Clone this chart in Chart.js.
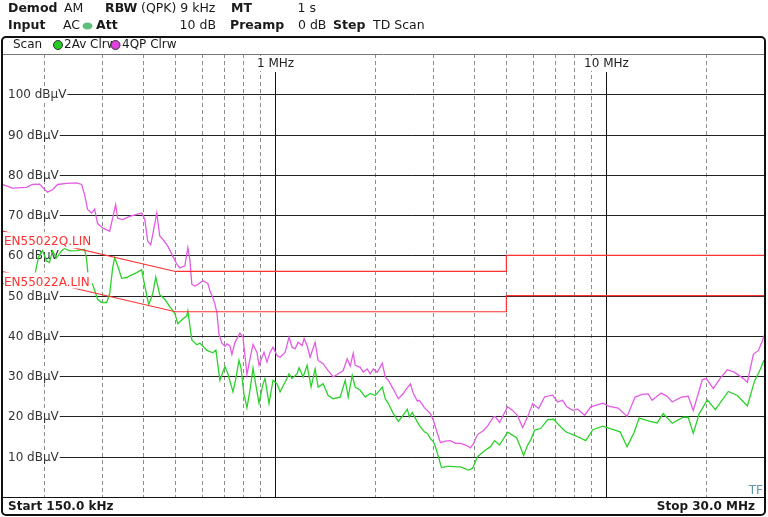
<!DOCTYPE html>
<html>
<head>
<meta charset="utf-8">
<script src="https://cdn.jsdelivr.net/npm/chart.js@4.4.1/dist/chart.umd.min.js"></script>
<style>
    html, body { margin: 0; padding: 0; background: #fff; overflow: hidden; }
    canvas { display: block; }
</style>
</head>
<body>
<canvas id="spectrum" width="768" height="517"></canvas>
<script>
// frequencies in kHz, levels in dBµV
const qpFreq = [150, 160.9, 177.5, 185.0, 194.3, 198.4, 205.4, 212.7, 220.3, 234.5,
    251.5, 260.4, 265.9, 271.5, 279.2, 285.1, 291.1, 301.5, 316.5, 323.3,
    330.1, 334.6, 346.5, 363.8, 395.6, 404.0, 412.5, 421.2, 427.2, 439.3,
    448.5, 458.1, 474.3, 487.6, 505.0, 515.6, 534.0, 545.3, 552.9, 560.6,
    572.5, 584.6, 605.4, 626.8, 635.6, 649.1, 658.2, 667.4, 676.8, 691.0,
    705.7, 715.6, 730.7, 740.9, 756.7, 783.4, 800.1, 822.7, 840.0, 857.9,
    882.1, 894.5, 913.3, 926.2, 945.8, 965.7, 986.2, 1014, 1035.5, 1072.2,
    1102.5, 1125.8, 1149.6, 1173.9, 1207.0, 1224.1, 1249.9, 1276.3, 1321.6, 1349.6,
    1397.4, 1447.0, 1498.4, 1551.6, 1606.6, 1651.9, 1686.9, 1722.6, 1746.7, 1808.7,
    1847.0, 1899.1, 1939.3, 1980.4, 2036.2, 2108.5, 2153.1, 2198.7, 2276.7, 2357.5,
    2441.1, 2475.3, 2563.1, 2617.4, 2691.3, 2729.2, 2826.0, 2946.7, 3009.1, 3094.0,
    3159.5, 3271.5, 3387.6, 3507.8, 3632.2, 3761.1, 3894.5, 3977.0, 4089.2, 4264.2,
    4384.5, 4572.2, 4636.2, 4767.4, 5040.6, 5219.4, 5404.6, 5596.3, 5794.9, 6000.5,
    6257.3, 6524.5, 6898.4, 7143.1, 7396.5, 7605.8, 7930.6, 8212.0, 8623.1, 8991.3,
    9775.7, 10211, 10872, 11575, 12239, 12852, 13401, 13779, 14672, 15298,
    15841, 16867, 17712, 18341, 19124, 19527, 20080, 21086, 22139, 23246,
    24411, 25992, 26725, 27870, 28858, 29672, 30000];
const qpLevel = [77.6, 76.7, 76.9, 77.6, 77.7, 76.9, 75.7, 76.3, 77.6, 77.9,
    78.0, 77.6, 75.1, 71.4, 70.5, 71.5, 67.9, 66.8, 66.0, 69.3,
    72.6, 69.2, 68.9, 69.7, 70.5, 69.0, 63.5, 62.6, 65.2, 70.5,
    64.8, 64.0, 62.3, 60.3, 57.8, 56.9, 57.4, 61.9, 59.0, 52.8,
    52.4, 52.8, 53.7, 53.0, 51.2, 49.5, 47.9, 45.8, 40.5, 38.2,
    37.4, 38.0, 37.5, 35.4, 38.4, 40.7, 39.7, 30.4, 34.3, 37.9,
    35.9, 32.7, 34.7, 35.9, 33.5, 35.9, 37.2, 35.1, 34.7, 35.9,
    39.7, 37.2, 36.8, 38.4, 37.6, 39.3, 37.6, 34.7, 38.4, 33.9,
    33.1, 31.4, 29.8, 30.6, 31.4, 34.3, 32.5, 35.7, 32.7, 32.2,
    31.0, 31.8, 30.6, 31.8, 31.0, 33.2, 29.8, 29.0, 26.8, 24.4,
    25.7, 26.5, 28.1, 25.7, 23.8, 24.0, 22.2, 20.7, 19.0, 15.8,
    13.5, 13.9, 14.0, 13.3, 13.3, 12.9, 12.2, 13.3, 15.5, 16.5,
    17.6, 19.9, 19.9, 18.5, 22.4, 21.5, 20.2, 17.2, 19.9, 23.2,
    22.0, 24.9, 25.3, 23.6, 24.0, 22.4, 21.5, 21.8, 20.3, 22.4,
    23.3, 22.5, 22.1, 20.0, 24.8, 25.5, 25.6, 24.0, 25.8, 25.0,
    23.6, 24.8, 25.0, 21.5, 26.5, 29.1, 29.4, 26.9, 29.5, 31.6,
    31.0, 29.4, 28.5, 35.5, 36.4, 38.8, 40.1];

const avFreq = [150, 169.0, 185.0, 188.9, 193.0, 198.4, 204.0, 208.3, 212.7, 218.7,
    226.5, 231.3, 239.5, 251.5, 265.9, 269.6, 273.4, 281.2, 291.1, 299.3,
    310.0, 316.5, 323.3, 327.8, 334.6, 344.1, 356.3, 363.8, 382.1, 395.6,
    404.0, 415.4, 427.2, 436.2, 448.5, 464.5, 480.9, 498.0, 508.5, 526.6,
    541.5, 545.3, 560.6, 580.5, 592.8, 622.5, 649.1, 662.8, 681.5, 705.7,
    720.6, 746.3, 762.0, 778.0, 788.9, 805.7, 822.7, 840.0, 857.9, 869.9,
    894.5, 919.8, 932.7, 959.0, 986.2, 1014, 1035.5, 1072.2, 1102.5, 1125.8,
    1165.7, 1182.1, 1215.6, 1249.9, 1285.2, 1321.6, 1349.6, 1397.4, 1447.0, 1498.4,
    1573.3, 1629.1, 1663.6, 1710.5, 1746.7, 1808.7, 1872.9, 1939.3, 2008.1, 2050.7,
    2108.5, 2153.1, 2198.7, 2276.7, 2357.5, 2424.0, 2510.0, 2545.3, 2599.0, 2691.3,
    2748.2, 2826.0, 2885.6, 2946.7, 3009.1, 3051.2, 3115.9, 3181.6, 3317.3, 3387.6,
    3556.9, 3632.2, 3840.7, 3949.1, 4089.2, 4293.9, 4477.3, 4604.1, 4767.4, 5040.6,
    5367.1, 5480.8, 5635.9, 5794.9, 5917.6, 6085.0, 6344.9, 6662.0, 6947.1, 7143.1,
    7553.1, 8098.5, 8683.3, 9117.3, 9775.7, 10354, 11024, 11575, 12154, 12586,
    13589, 14268, 14879, 15841, 17105, 17712, 18341, 19124, 20220, 21381,
    23410, 24925, 26725, 28064, 29262, 30000];
const avLevel = [53.0, 53.2, 53.5, 55.9, 59.6, 61.2, 58.6, 58.2, 61.1, 59.4,
    61.1, 61.7, 61.1, 61.2, 61.5, 59.0, 53.7, 52.8, 49.1, 48.3,
    48.3, 50.4, 57.0, 59.4, 57.4, 54.3, 54.5, 54.9, 55.7, 56.4,
    52.4, 47.8, 50.5, 54.6, 50.2, 49.1, 47.3, 45.6, 43.0, 44.2,
    45.0, 46.2, 39.0, 37.8, 38.2, 36.4, 35.8, 36.5, 29.0, 32.4,
    30.6, 26.1, 29.5, 33.9, 32.2, 25.5, 22.2, 26.5, 32.0, 29.0,
    23.3, 28.1, 29.4, 23.2, 29.0, 28.1, 26.1, 28.5, 30.6, 29.4,
    30.6, 32.1, 29.8, 32.7, 27.3, 31.8, 27.3, 28.1, 25.2, 24.4,
    24.8, 29.0, 24.8, 30.2, 27.3, 26.5, 24.8, 25.7, 25.2, 26.1,
    27.3, 24.4, 23.2, 20.7, 18.8, 20.0, 21.8, 19.9, 21.0, 18.6,
    17.4, 16.2, 15.8, 14.5, 13.7, 12.5, 10.0, 7.3, 7.6, 7.6,
    7.5, 7.5, 6.7, 7.1, 10.0, 11.5, 12.5, 14.0, 12.9, 16.1,
    14.7, 12.9, 10.3, 12.9, 14.1, 16.6, 17.0, 19.2, 19.3, 18.2,
    16.2, 15.2, 14.0, 16.7, 17.6, 16.9, 16.2, 12.5, 16.0, 19.6,
    18.8, 18.4, 20.7, 18.3, 19.8, 19.8, 15.8, 20.7, 24.1, 21.7,
    26.2, 25.2, 22.6, 28.7, 31.8, 34.0];

// EN55022 class B limit lines
const limitFreq = [150, 500, 5000, 5000, 30000];
const limitQLevel = [66, 56, 56, 60, 60];
const limitALevel = [56, 46, 46, 50, 50];
const limitNames = ["EN55022Q.LIN", "EN55022A.LIN"];

const levelTicks = [10, 20, 30, 40, 50, 60, 70, 80, 90, 100];
const minorFreqs = [200, 300, 400, 500, 600, 700, 800, 900, 2000, 3000, 4000, 5000, 6000, 7000, 8000, 9000, 20000];
const majorFreqs = [1000, 10000];
const majorLabels = ["1 MHz", "10 MHz"];

const FONT = '"DejaVu Sans", Verdana, sans-serif';
const RED = "#ff3232";

// [text, x, bold, align]
const headerRows = [
    [["Demod", 8, true], ["AM", 64, false], ["RBW", 105, true], ["(QPK) 9 kHz", 141, false], ["MT", 231, true], ["1 s", 316, false, "right"]],
    [["Input", 8, true], ["AC", 80, false, "right"], ["Att", 96, true], ["10 dB", 216, false, "right"], ["Preamp", 230, true], ["0 dB", 298, false], ["Step", 333, true], ["TD Scan", 373, false]]
];

function toPoints(freqs, levels) {
    return freqs.map((f, i) => ({ x: f, y: levels[i] }));
}

function hline(ctx, x1, x2, y) {
    ctx.beginPath();
    ctx.moveTo(x1, y);
    ctx.lineTo(x2, y);
    ctx.stroke();
}

function vline(ctx, x, y1, y2) {
    ctx.beginPath();
    ctx.moveTo(x, y1);
    ctx.lineTo(x, y2);
    ctx.stroke();
}

function dot(ctx, x, y, color) {
    ctx.beginPath();
    ctx.arc(x, y, 4.5, 0, Math.PI * 2);
    ctx.fillStyle = color;
    ctx.fill();
    ctx.lineWidth = 1;
    ctx.strokeStyle = "#333";
    ctx.stroke();
}

const analyzerScreen = {
    id: "analyzerScreen",
    beforeDraw(chart) {
        const ctx = chart.ctx;
        ctx.save();
        ctx.fillStyle = "#fff";
        ctx.fillRect(0, 0, chart.width, chart.height);
        ctx.textBaseline = "middle";
        ctx.fillStyle = "#1a1a1a";
        headerRows.forEach((row, i) => {
            row.forEach(([s, x, bold, align]) => {
                ctx.font = (bold ? "bold " : "") + "12.5px " + FONT;
                ctx.textAlign = align || "left";
                ctx.fillText(s, x, 9 + i * 17);
            });
        });
        // input coupling LED
        ctx.beginPath();
        ctx.ellipse(87.5, 26, 5, 3.5, 0, 0, Math.PI * 2);
        ctx.fillStyle = "#5fbf7a";
        ctx.fill();
        ctx.restore();
    },
    beforeDatasetsDraw(chart) {
        const { ctx, chartArea: a, scales: { x, y } } = chart;
        ctx.save();
        ctx.lineWidth = 1;

        ctx.strokeStyle = "#8c8c8c";
        ctx.setLineDash([4, 3]);
        minorFreqs.forEach(f => {
            const px = Math.round(x.getPixelForValue(f)) + 0.5;
            vline(ctx, px, a.top, a.bottom);
        });
        ctx.setLineDash([]);

        ctx.font = "12px " + FONT;
        ctx.textBaseline = "middle";
        ctx.textAlign = "center";
        majorFreqs.forEach((f, i) => {
            const px = Math.round(x.getPixelForValue(f)) + 0.5;
            const w = ctx.measureText(majorLabels[i]).width;
            ctx.fillStyle = "#fff";
            ctx.fillRect(px - w / 2 - 2, 56, w + 4, 15);
            ctx.fillStyle = "#222";
            ctx.fillText(majorLabels[i], px, 64);
            ctx.strokeStyle = "#111";
            vline(ctx, px, 72, a.bottom);
        });

        ctx.textAlign = "left";
        levelTicks.forEach(v => {
            const py = Math.round(y.getPixelForValue(v)) + 0.5;
            const label = v + " dB\u00b5V";
            const w = ctx.measureText(label).width;
            ctx.fillStyle = "#fff";
            ctx.fillRect(6, py - 7, w + 3, 14);
            ctx.fillStyle = "#333";
            ctx.fillText(label, 8, py);
            ctx.strokeStyle = "#222";
            hline(ctx, 8 + w + 1, a.right, py);
        });
        ctx.restore();
    },
    afterDatasetsDraw(chart) {
        const { ctx, chartArea: a, scales: { y } } = chart;
        ctx.save();
        ctx.font = "12px " + FONT;
        ctx.textBaseline = "middle";

        // limit line names
        [limitQLevel[0], limitALevel[0]].forEach((lvl, i) => {
            const cy = y.getPixelForValue(lvl) + 11;
            const w = ctx.measureText(limitNames[i]).width;
            ctx.fillStyle = "#fff";
            ctx.fillRect(4, cy - 10, w + 2, 16);
            ctx.fillStyle = RED;
            ctx.fillText(limitNames[i], 4, cy);
        });

        // header and footer separators
        ctx.lineWidth = 1;
        ctx.strokeStyle = "#777";
        hline(ctx, 2, 765, 54.5);
        ctx.strokeStyle = "#111";
        hline(ctx, 2, 765, Math.round(a.bottom) + 0.5);

        // trace legend row
        ctx.fillStyle = "#1a1a1a";
        ctx.fillText("Scan", 13, 45);
        dot(ctx, 58, 45, "#22cc22");
        ctx.fillStyle = "#1a1a1a";
        ctx.fillText("2Av Clrw", 64, 45);
        dot(ctx, 115.5, 45, "#e040e0");
        ctx.fillStyle = "#1a1a1a";
        ctx.fillText("4QP Clrw", 122, 45);

        // footer
        ctx.font = "bold 12px " + FONT;
        ctx.fillText("Start 150.0 kHz", 8, 507);
        ctx.textAlign = "right";
        ctx.fillText("Stop 30.0 MHz", 755, 507);
        ctx.font = "12px " + FONT;
        ctx.fillStyle = "#5b97a8";
        ctx.fillText("TF", 763, 491);

        // outer frame
        ctx.lineWidth = 2;
        ctx.strokeStyle = "#111";
        ctx.beginPath();
        ctx.roundRect(2, 37, 763, 478, 4);
        ctx.stroke();
        ctx.restore();
    }
};

new Chart(document.getElementById("spectrum"), {
    type: "line",
    data: {
        datasets: [
            {
                label: "EN55022Q",
                data: toPoints(limitFreq, limitQLevel),
                borderColor: RED,
                borderWidth: 1.2,
                pointRadius: 0
            },
            {
                label: "EN55022A",
                data: toPoints(limitFreq, limitALevel),
                borderColor: RED,
                borderWidth: 1.2,
                pointRadius: 0
            },
            {
                label: "2Av Clrw",
                data: toPoints(avFreq, avLevel),
                borderColor: "#2cd12c",
                borderWidth: 1.3,
                pointRadius: 0
            },
            {
                label: "4QP Clrw",
                data: toPoints(qpFreq, qpLevel),
                borderColor: "#e35ce3",
                borderWidth: 1.3,
                pointRadius: 0
            }
        ]
    },
    options: {
        responsive: false,
        animation: false,
        devicePixelRatio: 1,
        layout: { padding: { left: 2.3, right: 4, top: 54, bottom: 20 } },
        plugins: {
            legend: { display: false },
            tooltip: { enabled: false }
        },
        scales: {
            x: { type: "logarithmic", min: 150, max: 30000, bounds: "data", display: false },
            y: { type: "linear", min: 0, max: 110, display: false }
        }
    },
    plugins: [analyzerScreen]
});
</script>
</body>
</html>
